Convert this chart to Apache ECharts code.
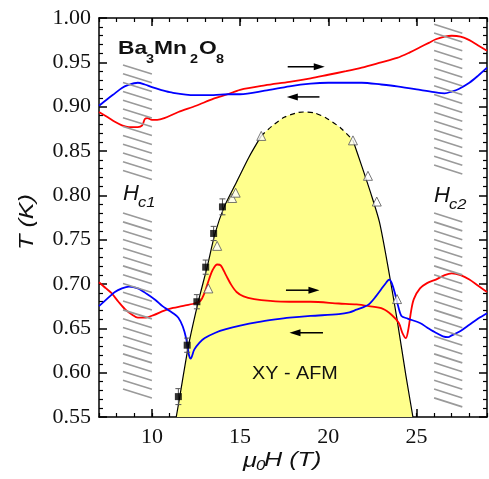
<!DOCTYPE html>
<html>
<head>
<meta charset="utf-8">
<script src="https://cdn.jsdelivr.net/npm/echarts@6/dist/echarts.min.js"></script>
<style>
html, body { margin: 0; padding: 0; background: #fff; }
#chart { width: 489px; height: 479px; }
</style>
</head>
<body>
<div id="chart"></div>
<script>
// field sweeps, [H (T), T (K)]
const upHigh = [[7.0,0.894],[7.5,0.888],[7.9,0.883],[8.3,0.879],[8.7,0.877],[9.2,0.877],[9.45,0.879],[9.6,0.886],[9.75,0.887],[10.0,0.885],[10.3,0.885],[10.7,0.887],[11.5,0.894],[12.5,0.901],[13.5,0.909],[14.3,0.914],[15.0,0.919],[16.4,0.924],[17.8,0.928],[19.0,0.932],[20.0,0.936],[21.0,0.940],[21.9,0.944],[23.0,0.950],[23.9,0.955],[24.6,0.961],[25.2,0.967],[25.7,0.972],[26.1,0.976],[26.6,0.979],[27.0,0.980],[27.5,0.979],[28.0,0.975],[28.5,0.969],[29.0,0.963]]
const downHigh = [[7.0,0.901],[7.5,0.909],[7.9,0.915],[8.3,0.921],[8.6,0.924],[9.2,0.927],[9.6,0.925],[10.0,0.922],[10.5,0.919],[11.1,0.916],[12.4,0.913],[13.5,0.913],[14.3,0.914],[15.0,0.914],[16.4,0.918],[17.8,0.923],[19.0,0.926],[20.0,0.927],[21.9,0.927],[23.0,0.925],[23.9,0.923],[25.2,0.919],[26.1,0.916],[26.6,0.915],[27.0,0.917],[27.4,0.920],[28.0,0.927],[28.5,0.935],[29.0,0.944]]
const upLow = [[7.0,0.702],[7.4,0.695],[7.7,0.690],[8.1,0.680],[8.5,0.671],[8.9,0.665],[9.2,0.662],[9.6,0.662],[10.1,0.665],[10.7,0.670],[11.2,0.673],[11.7,0.675],[12.4,0.678],[12.75,0.681],[13.0,0.691],[13.25,0.706],[13.45,0.716],[13.7,0.722],[13.9,0.721],[14.2,0.710],[14.5,0.699],[14.8,0.691],[15.2,0.686],[15.8,0.683],[16.7,0.681],[17.8,0.680],[19.0,0.680],[20.6,0.678],[21.6,0.677],[22.3,0.675],[23.1,0.672],[23.6,0.665],[24.0,0.656],[24.2,0.645],[24.4,0.639],[24.55,0.650],[24.7,0.670],[24.85,0.683],[25.2,0.695],[25.6,0.701],[26.1,0.705],[26.6,0.710],[27.0,0.712],[27.5,0.710],[28.0,0.705],[28.5,0.698],[29.0,0.691]]
const downLow = [[7.0,0.675],[7.5,0.684],[7.9,0.691],[8.3,0.695],[8.7,0.697],[9.2,0.695],[9.7,0.689],[10.2,0.682],[10.6,0.675],[10.9,0.671],[11.2,0.667],[11.5,0.662],[11.75,0.652],[11.95,0.638],[12.1,0.620],[12.2,0.616],[12.4,0.626],[12.7,0.634],[13.0,0.639],[13.6,0.645],[14.2,0.649],[15.0,0.653],[16.0,0.657],[17.0,0.660],[17.8,0.662],[19.0,0.664],[20.6,0.666],[21.2,0.668],[21.6,0.671],[22.0,0.674],[22.3,0.677],[22.7,0.686],[23.0,0.694],[23.3,0.702],[23.45,0.705],[23.6,0.701],[23.8,0.688],[23.95,0.676],[24.15,0.664],[24.5,0.661],[25.2,0.656],[25.6,0.651],[26.1,0.645],[26.5,0.641],[26.8,0.640],[27.0,0.642],[27.5,0.647],[28.0,0.654],[28.5,0.661],[29.0,0.667]]

// XY-AFM phase boundary
const edgeLeft = [[11.38,0.55],[11.58,0.573],[12.08,0.631],[12.63,0.68],[13.13,0.719],[13.58,0.757],[14.1,0.787],[14.8,0.815],[15.5,0.843],[16.2,0.867]]
const edgeTop = [[16.2,0.867],[16.8,0.878],[17.5,0.888],[18.2,0.893],[18.6,0.894],[19.2,0.893],[19.9,0.887],[20.7,0.876],[21.4,0.862]]
const edgeRight = [[21.4,0.862],[21.9,0.833],[22.4,0.803],[22.9,0.770],[23.4,0.718],[23.9,0.660],[24.4,0.597],[24.8,0.55]]

const squares = [[11.5,0.573],[12.0,0.631],[12.55,0.680],[13.05,0.719],[13.5,0.757],[14.0,0.787]]
const squareErr = [0.009,0.008,0.008,0.008,0.008,0.009]
const triangles = [[13.2,0.695],[13.7,0.743],[14.55,0.797],[14.75,0.803],[16.2,0.867],[21.4,0.862],[22.25,0.822],[22.75,0.793],[23.9,0.683]]

// Hc1 / Hc2 bands: [Hfrom, Hto, Ttop, Tbottom]
const bands = [[8.36,10.0,0.947,0.817],[8.36,10.0,0.780,0.564],[26.0,27.6,0.993,0.817],[26.0,27.6,0.780,0.560]]
// sweep arrows: [Hstart, Hend, T]
const arrows = [[17.7,19.8,0.945],[19.5,17.65,0.911],[17.6,19.5,0.693],[19.7,17.8,0.645]]

const xMajor = [10, 15, 20, 25]

const chart = echarts.init(document.getElementById('chart'))

const serif = 'Liberation Serif'
const sans = 'Liberation Sans'

function curve(data, color) {
  return {
    type: 'line', data: data, symbol: 'none', smooth: 0.3,
    lineStyle: { color: color, width: 1.8 }, z: 3, silent: true
  }
}

function edge(data, dashed) {
  return {
    type: 'line', data: data, symbol: 'none', smooth: 0.25,
    lineStyle: { color: '#000', width: 1.2, type: dashed ? [5, 4] : 'solid' }, z: 2, silent: true
  }
}

function renderHatch(params, api) {
  const a = api.coord([api.value(0), api.value(2)])
  const b = api.coord([api.value(1), api.value(3)])
  const drop = 9, gap = 8.8
  const kids = []
  for (let y = a[1]; y + drop <= b[1] + 0.5; y += gap) {
    kids.push({
      type: 'line',
      shape: { x1: a[0], y1: y, x2: b[0], y2: y + drop },
      style: { stroke: '#9a9a9a', lineWidth: 1.6 }
    })
  }
  return { type: 'group', children: kids }
}

function renderArrow(params, api) {
  const a = api.coord([api.value(0), api.value(2)])
  const b = api.coord([api.value(1), api.value(2)])
  const dir = b[0] > a[0] ? 1 : -1
  const head = 11, half = 3.5
  return {
    type: 'group', children: [
      { type: 'line', shape: { x1: a[0], y1: a[1], x2: b[0] - dir * head * 0.7, y2: b[1] }, style: { stroke: '#000', lineWidth: 1.5 } },
      { type: 'polygon', shape: { points: [[b[0], b[1]], [b[0] - dir * head, b[1] - half], [b[0] - dir * head, b[1] + half]] }, style: { fill: '#000' } }
    ]
  }
}

function renderErr(params, api) {
  const x = api.value(0), y = api.value(1), e = api.value(2)
  const t = api.coord([x, y + e]), b = api.coord([x, y - e])
  const st = { stroke: '#555', lineWidth: 1 }
  return {
    type: 'group', children: [
      { type: 'line', shape: { x1: t[0], y1: t[1], x2: b[0], y2: b[1] }, style: st },
      { type: 'line', shape: { x1: t[0] - 3, y1: t[1], x2: t[0] + 3, y2: t[1] }, style: st },
      { type: 'line', shape: { x1: b[0] - 3, y1: b[1], x2: b[0] + 3, y2: b[1] }, style: st }
    ]
  }
}

const axisLine = { show: true, lineStyle: { color: '#000', width: 1.5 } }

function minorX(pos) {
  return {
    type: 'value', position: pos, min: 7, max: 29, interval: 1,
    axisLine: axisLine,
    axisTick: { inside: true, length: 4, lineStyle: { color: '#000', width: 1.2 } },
    axisLabel: { show: false }, splitLine: { show: false }
  }
}
function majorX(pos, labels) {
  return {
    type: 'value', position: pos, min: 7, max: 29,
    axisLine: { show: false },
    axisTick: { inside: true, length: 8, customValues: xMajor, lineStyle: { color: '#000', width: 1.5 } },
    axisLabel: { show: labels, customValues: xMajor, fontFamily: serif, fontSize: 22, color: '#111', margin: 9 },
    splitLine: { show: false }
  }
}
function yAx(pos, labels) {
  return {
    type: 'value', position: pos, min: 0.55, max: 1.0, interval: 0.05,
    axisLine: axisLine,
    axisTick: { inside: true, length: 8, lineStyle: { color: '#000', width: 1.5 } },
    minorTick: { show: true, splitNumber: 5, length: 4, lineStyle: { color: '#000', width: 1.2 } },
    axisLabel: { show: labels, fontFamily: serif, fontSize: 22, color: '#111', margin: 8, formatter: v => v.toFixed(2) },
    splitLine: { show: false }
  }
}

// text pieces, stretched a little sideways like the original figure
function txt(s, x, y, font, extra) {
  return Object.assign({ type: 'text', x: x, y: y, scaleX: 1.2, z: 10,
    style: { text: s, x: 0, y: 0, font: font, fill: '#111', verticalAlign: 'middle' } }, extra || {})
}

const fillData = edgeLeft.concat(edgeTop.slice(1), edgeRight.slice(1))

chart.setOption({
  animation: false,
  grid: { left: 99, right: 2, top: 18, bottom: 62 },
  xAxis: [minorX('bottom'), majorX('bottom', true), minorX('top'), majorX('top', false)],
  yAxis: [yAx('left', true), yAx('right', false)],
  series: [
    {
      type: 'line', data: fillData, symbol: 'none', smooth: 0.25,
      lineStyle: { width: 0 }, areaStyle: { color: '#ffff8c', opacity: 1, origin: 'start' }, z: 1, silent: true
    },
    edge(edgeLeft, false),
    edge(edgeTop, true),
    edge(edgeRight, false),
    curve(upHigh, '#ff0000'),
    curve(downHigh, '#0000ff'),
    curve(upLow, '#ff0000'),
    curve(downLow, '#0000ff'),
    { type: 'custom', data: bands, renderItem: renderHatch, encode: { x: [0, 1], y: [2, 3] }, z: 4, silent: true },
    { type: 'custom', data: squares.map((p, i) => [p[0], p[1], squareErr[i]]), renderItem: renderErr, encode: { x: 0, y: 1 }, z: 5, silent: true },
    {
      type: 'scatter', data: squares, symbol: 'rect', symbolSize: 7,
      itemStyle: { color: '#000' }, z: 6, silent: true
    },
    {
      type: 'scatter', data: triangles, symbol: 'triangle', symbolSize: 9,
      itemStyle: { color: '#fff', borderColor: '#555', borderWidth: 1 }, z: 6, silent: true
    },
    { type: 'custom', data: arrows, renderItem: renderArrow, encode: { x: [0, 1], y: 2 }, z: 6, silent: true }
  ],
  graphic: [
    txt('Ba', 118, 49, 'bold 19px ' + sans),
    txt('3', 146, 60, 'bold 12px ' + sans),
    txt('Mn', 154, 49, 'bold 19px ' + sans),
    txt('2', 190, 60, 'bold 12px ' + sans),
    txt('O', 199, 49, 'bold 19px ' + sans),
    txt('8', 216, 60, 'bold 12px ' + sans),
    txt('H', 123, 194, 'italic 22px ' + sans, { scaleX: 1 }),
    txt('c1', 138, 203, 'italic 15px ' + sans, { scaleX: 1.1 }),
    txt('H', 434, 196, 'italic 22px ' + sans, { scaleX: 1 }),
    txt('c2', 449, 205, 'italic 15px ' + sans, { scaleX: 1.1 }),
    txt('XY - AFM', 252, 374, '18px ' + sans, { scaleX: 1.1 }),
    txt('μ', 243, 461, 'italic 21px ' + sans),
    txt('0', 256, 466, 'italic 14px ' + sans),
    txt('H (T)', 264, 460, 'italic 21px ' + sans),
    {
      type: 'text', rotation: Math.PI / 2, x: 27, y: 222, scaleX: 1.2, z: 10,
      style: { text: 'T (K)', x: 0, y: 0, font: 'italic 21px ' + sans, fill: '#111', align: 'center', verticalAlign: 'middle' }
    }
  ]
})
</script>
</body>
</html>
